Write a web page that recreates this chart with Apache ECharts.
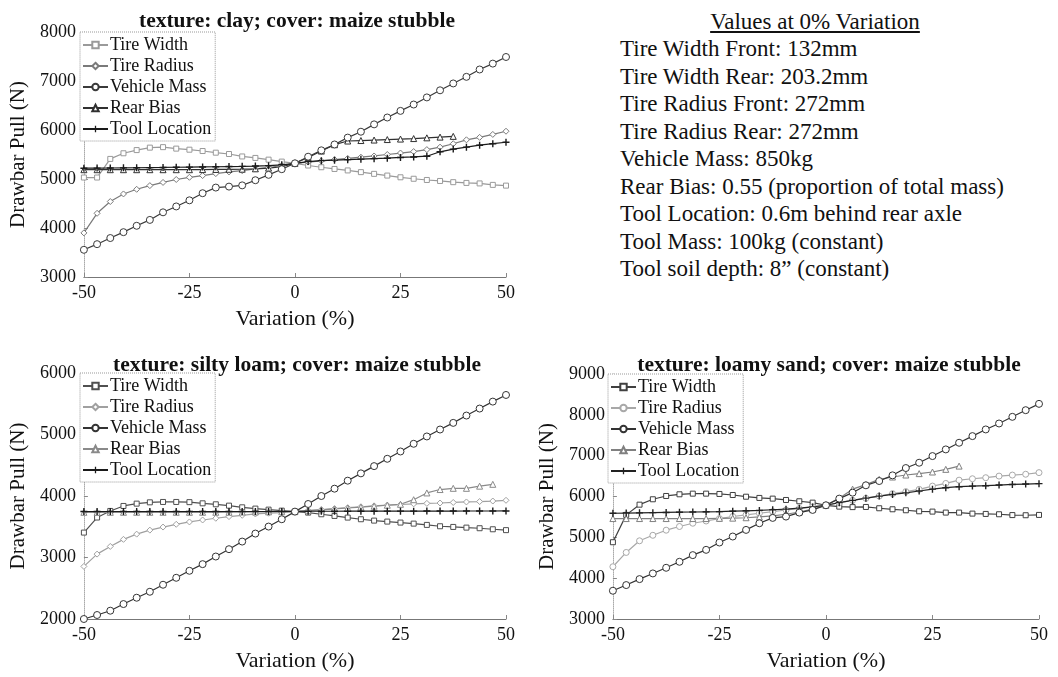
<!DOCTYPE html>
<html>
<head>
<meta charset="utf-8">
<script src="https://cdn.jsdelivr.net/npm/echarts@6/dist/echarts.min.js"></script>
<style>
body{margin:0;background:#fff;}
#wrap{position:relative;width:1058px;height:677px;overflow:hidden;}
.plot{position:absolute;}
.note{position:absolute;white-space:nowrap;font-family:'Liberation Serif','Times New Roman',serif;font-size:23px;line-height:27px;color:#111;}
</style>
</head>
<body>
<div id="wrap">
<div id="clay" class="plot" style="left:0;top:0;width:529px;height:340px"></div>
<div id="silt" class="plot" style="left:0;top:340px;width:529px;height:337px"></div>
<div id="sand" class="plot" style="left:529px;top:340px;width:529px;height:337px"></div>
<div id="notes"></div>
</div>
<script>
var FONT = "'Liberation Serif','Times New Roman',serif"

// variation (%) steps
var xs = [-50, -46.875, -43.75, -40.625, -37.5, -34.375, -31.25, -28.125, -25, -21.875, -18.75, -15.625, -12.5, -9.375, -6.25, -3.125,
    0, 3.125, 6.25, 9.375, 12.5, 15.625, 18.75, 21.875, 25, 28.125, 31.25, 34.375, 37.5, 40.625, 43.75, 46.875, 50]
var seriesNames = ['Tire Width', 'Tire Radius', 'Vehicle Mass', 'Rear Bias', 'Tool Location']

// clay
var clayTireWidth = [5030, 5030, 5410, 5525, 5590, 5640, 5650, 5620, 5598, 5571, 5537, 5510, 5460, 5430, 5395, 5355,
    5320, 5275, 5240, 5205, 5175, 5140, 5105, 5070, 5035, 5005, 4980, 4960, 4935, 4920, 4910, 4880, 4865]
var clayTireRadius = [3900, 4300, 4540, 4695, 4790, 4865, 4930, 4990, 5035, 5070, 5110, 5145, 5170, 5205, 5235, 5275,
    5320, 5345, 5370, 5395, 5420, 5445, 5470, 5500, 5530, 5560, 5600, 5650, 5720, 5800, 5850, 5910, 5975]
var clayVehicleMass = [3555, 3670, 3795, 3915, 4045, 4165, 4320, 4440, 4565, 4710, 4825, 4845, 4870, 4975, 5085, 5200,
    5320, 5455, 5585, 5705, 5845, 5965, 6115, 6255, 6390, 6520, 6665, 6810, 6950, 7085, 7235, 7355, 7490]
var clayRearBias = [5190, 5190, 5190, 5190, 5190, 5190, 5190, 5190, 5190, 5192, 5195, 5198, 5200, 5208, 5222, 5250,
    5320, 5440, 5570, 5700, 5775, 5785, 5795, 5805, 5815, 5825, 5840, 5855, 5870, null, null, null, null]
var clayToolLocation = [5220, 5222, 5225, 5228, 5230, 5233, 5236, 5240, 5243, 5246, 5250, 5254, 5258, 5264, 5272, 5290,
    5320, 5355, 5375, 5385, 5395, 5405, 5415, 5425, 5440, 5450, 5465, 5555, 5610, 5650, 5690, 5720, 5750]

// silty loam
var siltTireWidth = [3405, 3650, 3757, 3838, 3876, 3897, 3903, 3903, 3900, 3881, 3865, 3843, 3816, 3795, 3778, 3762,
    3746, 3730, 3703, 3676, 3649, 3622, 3600, 3584, 3568, 3551, 3530, 3508, 3497, 3486, 3476, 3459, 3445]
var siltTireRadius = [2855, 3055, 3180, 3295, 3380, 3445, 3495, 3540, 3578, 3610, 3638, 3665, 3686, 3708, 3720, 3730,
    3746, 3765, 3780, 3795, 3810, 3825, 3840, 3852, 3862, 3872, 3880, 3886, 3895, 3903, 3910, 3918, 3930]
var siltVehicleMass = [2000, 2065, 2135, 2243, 2346, 2443, 2557, 2670, 2784, 2892, 3016, 3135, 3259, 3389, 3503, 3622,
    3746, 3870, 4000, 4119, 4249, 4368, 4486, 4605, 4724, 4849, 4968, 5081, 5189, 5308, 5422, 5535, 5643]
var siltRearBias = [3735, 3735, 3735, 3735, 3735, 3735, 3735, 3735, 3735, 3735, 3735, 3736, 3738, 3740, 3742, 3744,
    3746, 3760, 3775, 3790, 3805, 3820, 3835, 3850, 3865, 3940, 4050, 4105, 4125, 4125, 4160, 4190, null]
var siltToolLocation = [3748, 3748, 3748, 3748, 3748, 3748, 3748, 3748, 3748, 3748, 3748, 3748, 3748, 3748, 3748, 3748,
    3750, 3752, 3752, 3752, 3753, 3753, 3753, 3754, 3754, 3754, 3755, 3755, 3755, 3756, 3756, 3756, 3757]

// loamy sand
var sandTireWidth = [4880, 5550, 5800, 5932, 6013, 6054, 6070, 6070, 6062, 6037, 5995, 5965, 5948, 5915, 5883, 5850,
    5785, 5752, 5740, 5744, 5712, 5687, 5663, 5638, 5630, 5606, 5606, 5581, 5573, 5565, 5545, 5541, 5549]
var sandTireRadius = [4280, 4630, 4915, 5050, 5175, 5265, 5345, 5400, 5460, 5510, 5550, 5590, 5630, 5670, 5705, 5745,
    5785, 5850, 5905, 5955, 6010, 6070, 6120, 6175, 6255, 6320, 6400, 6435, 6460, 6500, 6525, 6545, 6585]
var sandVehicleMass = [3692, 3831, 3977, 4116, 4254, 4401, 4564, 4694, 4873, 5020, 5182, 5345, 5476, 5508, 5606, 5671,
    5785, 5948, 6094, 6274, 6379, 6518, 6697, 6827, 6990, 7153, 7316, 7479, 7642, 7788, 7951, 8114, 8269]
var sandRearBias = [5460, 5460, 5460, 5460, 5460, 5460, 5460, 5460, 5465, 5470, 5480, 5500, 5525, 5565, 5620, 5690,
    5785, 5960, 6180, 6290, 6420, 6477, 6526, 6560, 6600, 6665, 6745, null, null, null, null, null, null]
var sandToolLocation = [5590, 5595, 5600, 5605, 5610, 5615, 5620, 5625, 5630, 5640, 5650, 5660, 5675, 5690, 5715, 5745,
    5785, 5850, 5905, 5960, 6010, 6050, 6090, 6135, 6180, 6215, 6240, 6255, 6265, 6280, 6295, 6305, 6315]

var yTicks = {clay: [3000, 8000], silt: [2000, 6000], sand: [3000, 9000]}

var notesTitle = 'Values at 0% Variation'
var notesLines = ['Tire Width Front: 132mm', 'Tire Width Rear: 203.2mm', 'Tire Radius Front: 272mm', 'Tire Radius Rear: 272mm',
    'Vehicle Mass: 850kg', 'Rear Bias: 0.55 (proportion of total mass)', 'Tool Location: 0.6m behind rear axle',
    'Tool Mass: 100kg (constant)', 'Tool soil depth: 8\u201d (constant)']

var PLUS = 'path://M4,0H6V4H10V6H6V10H4V6H0V4H4Z'

function buildSeries(valueLists, colors, symbols, sizes) {
    return valueLists.map(function (vals, k) {
        var pts = []
        xs.forEach(function (x, i) {
            if (vals[i] != null) pts.push([x, vals[i]])
        })
        var isPlus = symbols[k] === PLUS
        return {
            name: seriesNames[k],
            type: 'line',
            data: pts,
            symbol: symbols[k],
            symbolSize: sizes[k],
            showSymbol: true,
            lineStyle: {color: colors[k], width: 1.2},
            itemStyle: isPlus ? {color: colors[k], borderWidth: 0} : {color: '#fff', borderColor: colors[k], borderWidth: 1},
            z: k === 2 ? 4 : 3
        }
    })
}

function buildOption(cfg) {
    return {
        animation: false,
        textStyle: {fontFamily: FONT},
        title: {
            text: cfg.title,
            left: cfg.titleX,
            top: cfg.titleTop,
            textAlign: 'center',
            textStyle: {fontFamily: FONT, fontSize: 21.5, fontWeight: 'bold', color: '#111'}
        },
        legend: {
            orient: 'vertical',
            left: cfg.gridLeft + 1,
            top: cfg.gridTop,
            padding: [4, 4, 3, 2],
            itemGap: 3,
            itemWidth: 25,
            itemHeight: 8,
            backgroundColor: '#fff',
            borderColor: '#999',
            borderWidth: 1,
            borderType: 'dotted',
            textStyle: {fontFamily: FONT, fontSize: 18, color: '#111', padding: [0, 0, 0, -3], lineHeight: 18},
            data: seriesNames
        },
        grid: {left: cfg.gridLeft, top: cfg.gridTop, width: cfg.gridW, height: cfg.gridH},
        xAxis: {
            type: 'value', min: -50, max: 50, interval: 25,
            name: 'Variation (%)', nameLocation: 'middle', nameGap: 31,
            nameTextStyle: {fontFamily: FONT, fontSize: 22, color: '#111'},
            axisLine: {show: true, onZero: false, lineStyle: {color: '#777', width: 1}},
            axisTick: {show: true, inside: true, length: 4, lineStyle: {color: '#888'}},
            axisLabel: {fontFamily: FONT, fontSize: 18, color: '#111', margin: 7},
            splitLine: {show: false}
        },
        yAxis: {
            type: 'value', min: cfg.yRange[0], max: cfg.yRange[1], interval: 1000,
            name: 'Drawbar Pull (N)', nameLocation: 'middle', nameGap: 48,
            nameTextStyle: {fontFamily: FONT, fontSize: 21, color: '#111'},
            axisLine: {show: true, onZero: false, lineStyle: {color: '#aaa', width: 1, type: 'dotted'}},
            axisTick: {show: true, inside: true, length: 4, lineStyle: {color: '#888'}},
            axisLabel: {fontFamily: FONT, fontSize: 18, color: '#111', margin: 8, formatter: function (v) { return String(v) }},
            splitLine: {show: false}
        },
        series: buildSeries(cfg.values, cfg.colors, cfg.symbols, [5, 6, 7, 6, 7])
    }
}

var clayChart = echarts.init(document.getElementById('clay'))
clayChart.setOption(buildOption({
    title: 'texture: clay; cover: maize stubble', titleX: 292, titleTop: 5,
    gridLeft: 79, gridTop: 32, gridW: 427, gridH: 245, yRange: yTicks.clay,
    values: [clayTireWidth, clayTireRadius, clayVehicleMass, clayRearBias, clayToolLocation],
    colors: ['#9a9a9a', '#7a7a7a', '#3a3a3a', '#303030', '#1a1a1a'],
    symbols: ['rect', 'diamond', 'circle', 'triangle', PLUS]
}))

var siltChart = echarts.init(document.getElementById('silt'))
siltChart.setOption(buildOption({
    title: 'texture: silty loam; cover: maize stubble', titleX: 292, titleTop: 9,
    gridLeft: 79, gridTop: 33, gridW: 427, gridH: 247, yRange: yTicks.silt,
    values: [siltTireWidth, siltTireRadius, siltVehicleMass, siltRearBias, siltToolLocation],
    colors: ['#505050', '#a0a0a0', '#333333', '#8a8a8a', '#1a1a1a'],
    symbols: ['rect', 'diamond', 'circle', 'triangle', PLUS]
}))

var sandChart = echarts.init(document.getElementById('sand'))
sandChart.setOption(buildOption({
    title: 'texture: loamy sand; cover: maize stubble', titleX: 295, titleTop: 9,
    gridLeft: 78, gridTop: 34, gridW: 432, gridH: 246, yRange: yTicks.sand,
    values: [sandTireWidth, sandTireRadius, sandVehicleMass, sandRearBias, sandToolLocation],
    colors: ['#404040', '#a8a8a8', '#333333', '#808080', '#222222'],
    symbols: ['rect', 'circle', 'circle', 'triangle', PLUS]
}))

// note block at top right
var notes = document.getElementById('notes')
var head = document.createElement('div')
head.className = 'note'
head.textContent = notesTitle
head.style.left = '815px'
head.style.top = '8px'
head.style.transform = 'translateX(-50%)'
head.style.textDecoration = 'underline'
notes.appendChild(head)
notesLines.forEach(function (t, i) {
    var d = document.createElement('div')
    d.className = 'note'
    d.textContent = t
    d.style.left = '620px'
    d.style.top = (35 + 27.5 * i) + 'px'
    notes.appendChild(d)
})
</script>
</body>
</html>
